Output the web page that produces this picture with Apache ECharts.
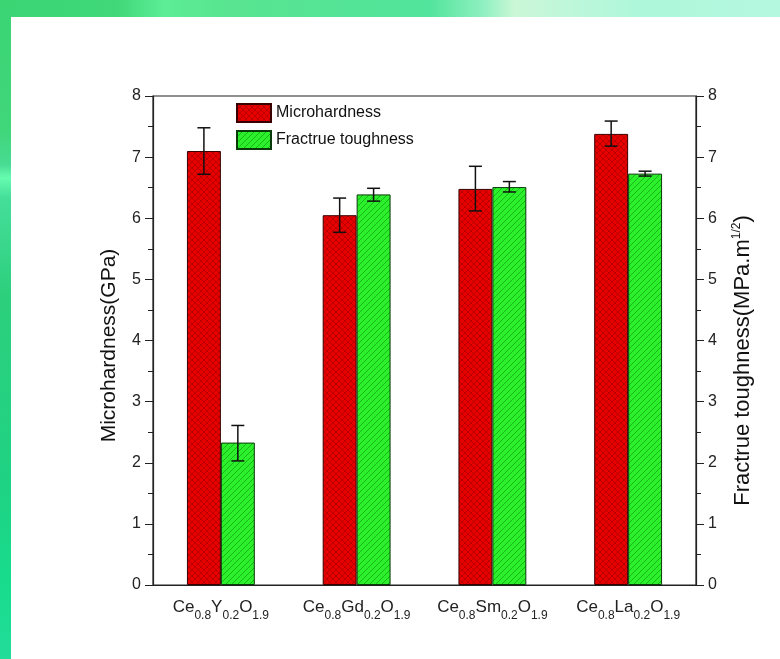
<!DOCTYPE html>
<html>
<head>
<meta charset="utf-8">
<script src="https://cdn.jsdelivr.net/npm/echarts@6/dist/echarts.min.js"></script>
<style>
html,body{margin:0;padding:0;background:#fff;}
#c{width:780px;height:659px;}
</style>
</head>
<body>
<div id="c"></div>
<script>
// ---- data ----
const dopants = ['Y', 'Gd', 'Sm', 'La'];
const categories = ['Ce0.8Y0.2O1.9', 'Ce0.8Gd0.2O1.9', 'Ce0.8Sm0.2O1.9', 'Ce0.8La0.2O1.9'];
const hardness = [7.1, 6.05, 6.48, 7.38];
const hardnessLow = [6.72, 5.77, 6.12, 7.18];
const hardnessHigh = [7.48, 6.33, 6.85, 7.59];
const toughness = [2.33, 6.39, 6.51, 6.73];
const toughnessLow = [2.03, 6.28, 6.43, 6.69];
const toughnessHigh = [2.61, 6.49, 6.6, 6.77];
const yTicks = [0, 1, 2, 3, 4, 5, 6, 7, 8];

function makePattern(bg, line, cross) {
  const c = document.createElement('canvas');
  c.width = 6; c.height = 6;
  const g = c.getContext('2d');
  g.fillStyle = bg; g.fillRect(0, 0, 6, 6);
  g.strokeStyle = line; g.lineWidth = 0.8;
  g.beginPath();
  g.moveTo(0, 6); g.lineTo(6, 0);
  g.moveTo(-3, 3); g.lineTo(3, -3);
  g.moveTo(3, 9); g.lineTo(9, 3);
  if (cross) {
    g.moveTo(0, 0); g.lineTo(6, 6);
    g.moveTo(-3, 3); g.lineTo(3, 9);
    g.moveTo(3, -3); g.lineTo(9, 3);
  }
  g.stroke();
  return { image: c, repeat: 'repeat' };
}
const redPat = makePattern('#e80000', '#b00000', true);
const greenPat = makePattern('#2bf02b', '#14a814', false);

const font = 'Liberation Sans, Arial, sans-serif';

function errRender(sign) {
  return function (params, api) {
    const x = api.value(0);
    const lo = api.coord([x, api.value(1)]);
    const hi = api.coord([x, api.value(2)]);
    const band = api.size([1, 0])[0];
    const cx = lo[0] + sign * band * 0.125;
    const h = 6.5;
    const st = { stroke: '#111', lineWidth: 1.5 };
    return {
      type: 'group',
      children: [
        { type: 'line', shape: { x1: cx, y1: lo[1], x2: cx, y2: hi[1] }, style: st },
        { type: 'line', shape: { x1: cx - h, y1: lo[1], x2: cx + h, y2: lo[1] }, style: st },
        { type: 'line', shape: { x1: cx - h, y1: hi[1], x2: cx + h, y2: hi[1] }, style: st }
      ]
    };
  };
}

const chart = echarts.init(document.getElementById('c'), null, { renderer: 'canvas' });

const yAxisCommon = {
  type: 'value', min: 0, max: 8, interval: 1,
  axisLine: { show: true, lineStyle: { color: '#222', width: 1.2 } },
  axisTick: { show: true, inside: false, length: 8, lineStyle: { color: '#222' } },
  minorTick: { show: true, splitNumber: 2, length: 5, lineStyle: { color: '#222' } },
  splitLine: { show: false },
  axisLabel: { fontSize: 16, color: '#222', fontFamily: font, margin: 12,
    formatter: v => yTicks.includes(v) ? String(v) : '' },
  nameLocation: 'middle', nameRotate: 90,
  nameTextStyle: { fontSize: 21, color: '#111', fontFamily: font }
};

chart.setOption({
  backgroundColor: '#fff',
  animation: false,
  graphic: [
    { type: 'rect', shape: { x: 0, y: 0, width: 780, height: 17 }, z: -10,
      style: { fill: new echarts.graphic.LinearGradient(0, 0, 1, 0, [
        { offset: 0, color: '#3bd574' }, { offset: 0.15, color: '#40d878' },
        { offset: 0.21, color: '#5ded96' }, { offset: 0.3, color: '#58e490' },
        { offset: 0.55, color: '#52e49c' }, { offset: 0.62, color: '#8ff0c0' },
        { offset: 0.66, color: '#cbf7d6' }, { offset: 0.72, color: '#c0f7da' },
        { offset: 0.82, color: '#aef7da' }, { offset: 1, color: '#b4f8e0' }]) } },
    { type: 'rect', shape: { x: 0, y: 0, width: 11, height: 659 }, z: -10,
      style: { fill: new echarts.graphic.LinearGradient(0, 0, 0, 1, [
        { offset: 0, color: '#3bd574' }, { offset: 0.2, color: '#40d67a' },
        { offset: 0.25, color: '#48dc94' }, { offset: 0.27, color: '#66fcb0' },
        { offset: 0.3, color: '#45de9a' }, { offset: 0.45, color: '#2ccf7c' },
        { offset: 0.75, color: '#1ed384' }, { offset: 0.88, color: '#18dc8c' },
        { offset: 1, color: '#22dc9a' }]) } }
  ],
  grid: { left: 153, right: 84, top: 96, bottom: 74, show: true,
    borderColor: '#222', borderWidth: 1.2, backgroundColor: 'transparent' },
  legend: {
    data: ['Microhardness', 'Fractrue toughness'],
    orient: 'vertical', left: 231, top: 98,
    itemWidth: 34, itemHeight: 18, itemGap: 7, icon: 'rect',
    textStyle: { fontSize: 16, color: '#111', fontFamily: font }
  },
  xAxis: {
    type: 'category', data: categories,
    axisLine: { lineStyle: { color: '#222', width: 1.2 } },
    axisTick: { show: false },
    axisLabel: {
      margin: 13, interval: 0,
      formatter: (v, i) => '{m|Ce}{s|0.8}{m|' + dopants[i] + '}{s|0.2}{m|O}{s|1.9}',
      rich: {
        m: { fontSize: 17, color: '#222', fontFamily: font, verticalAlign: 'bottom', lineHeight: 24, padding: [0, 0, 6, 0] },
        s: { fontSize: 12, color: '#222', fontFamily: font, verticalAlign: 'bottom', lineHeight: 24 }
      }
    }
  },
  yAxis: [
    Object.assign({}, yAxisCommon, { position: 'left', name: 'Microhardness(GPa)', nameGap: 33,
      nameTextStyle: { fontSize: 21, color: '#111', fontFamily: font, padding: [0, 10, 0, 0] } }),
    Object.assign({}, yAxisCommon, { position: 'right', name: 'Fractrue toughness(MPa.m{sup|1/2})', nameGap: 35,
      nameTextStyle: { fontSize: 22, color: '#111', fontFamily: font, padding: [0, 40, 0, 0],
        rich: { sup: { fontSize: 12, color: '#111', fontFamily: font, verticalAlign: 'top', padding: [0, 0, 12, 0] } } } })
  ],
  series: [
    { name: 'Microhardness', type: 'bar', yAxisIndex: 0, data: hardness,
      barWidth: '25%', barGap: '0%',
      itemStyle: { color: redPat, borderColor: '#3a0000', borderWidth: 1 } },
    { name: 'Fractrue toughness', type: 'bar', yAxisIndex: 1, data: toughness,
      barWidth: '25%', barGap: '0%',
      itemStyle: { color: greenPat, borderColor: '#0a3a0a', borderWidth: 1 } },
    { name: 'err1', type: 'custom', yAxisIndex: 0, renderItem: errRender(-1), z: 5,
      data: hardness.map((v, i) => [i, hardnessLow[i], hardnessHigh[i]]) },
    { name: 'err2', type: 'custom', yAxisIndex: 1, renderItem: errRender(1), z: 5,
      data: toughness.map((v, i) => [i, toughnessLow[i], toughnessHigh[i]]) }
  ]
});
</script>
</body>
</html>
